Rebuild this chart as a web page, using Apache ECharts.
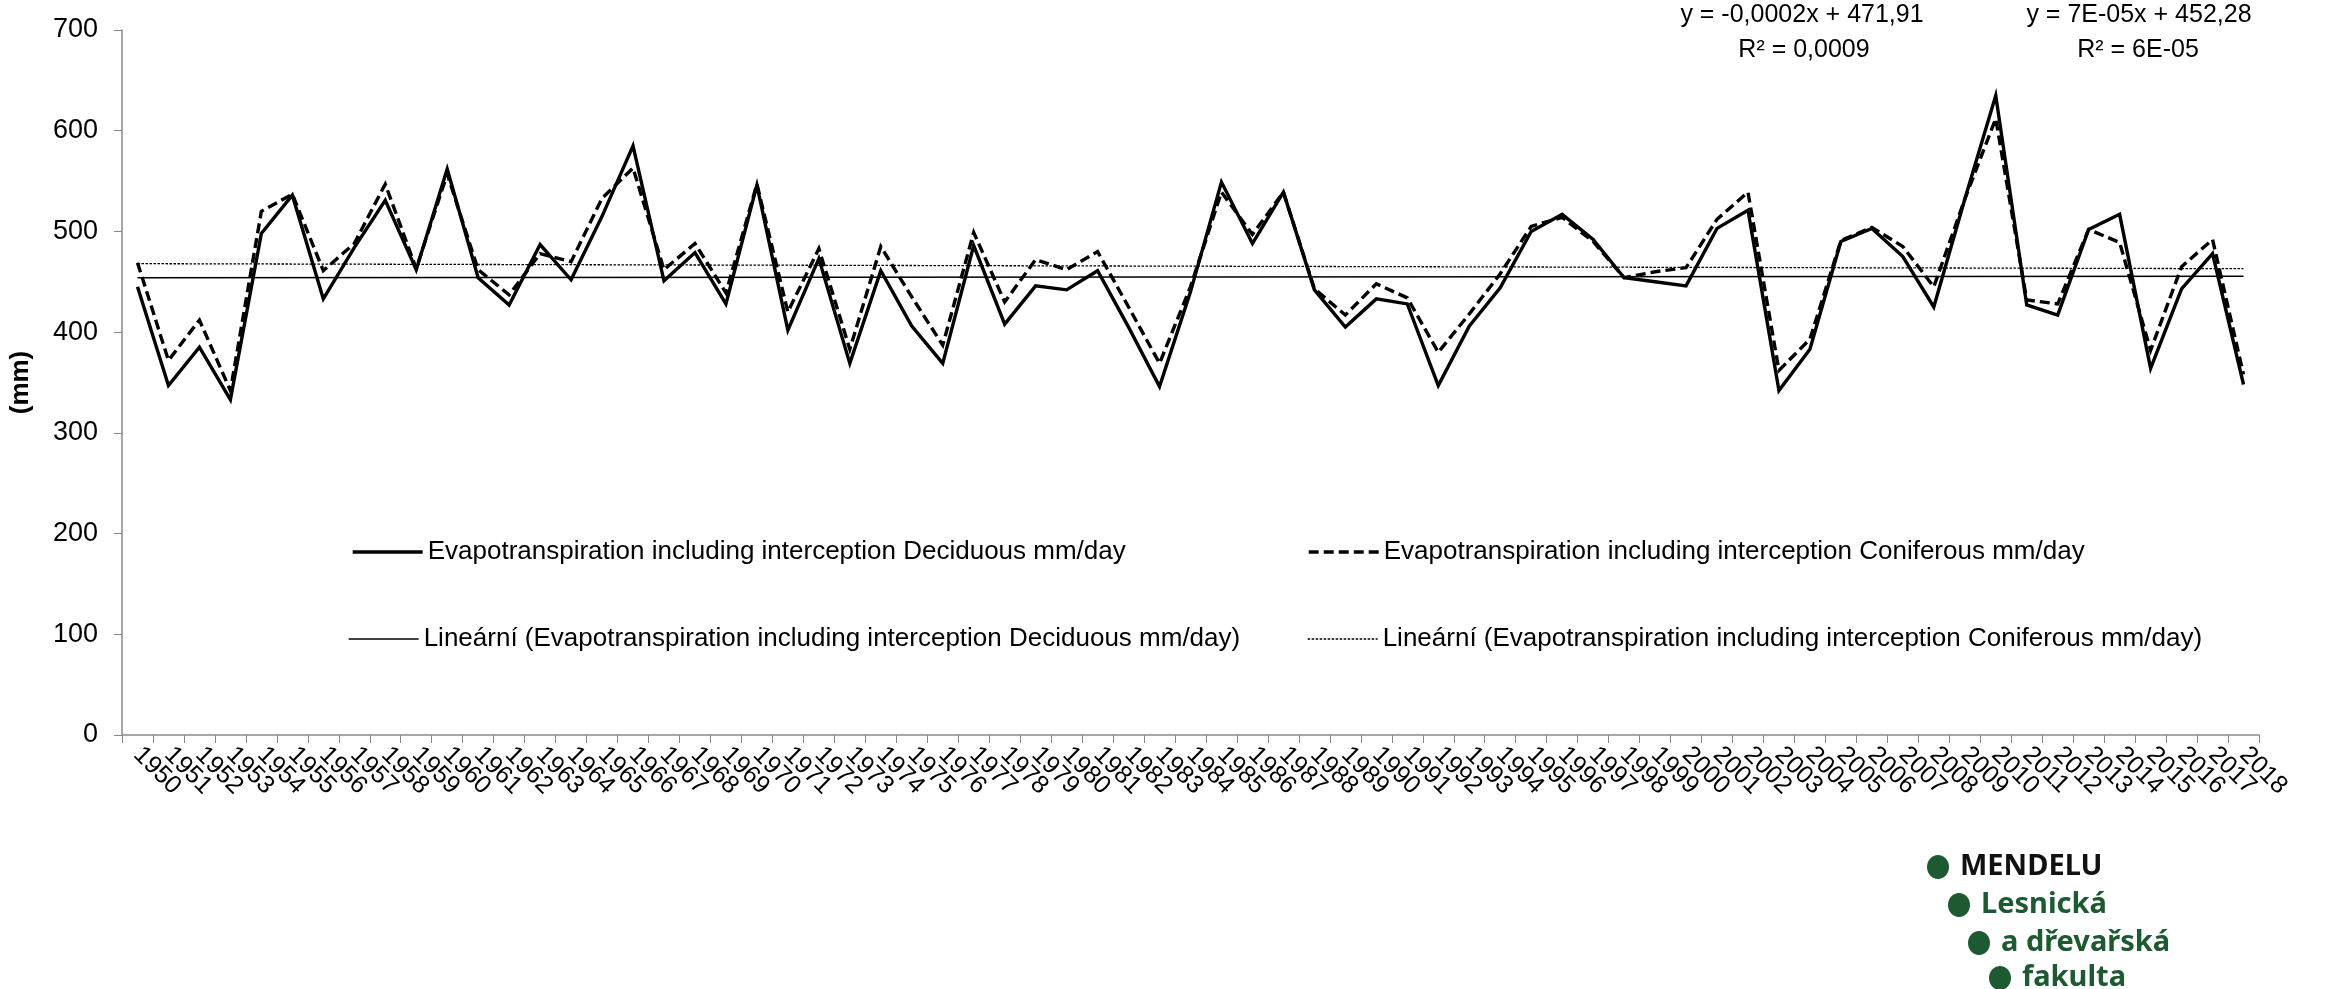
<!DOCTYPE html>
<html><head><meta charset="utf-8">
<script src="https://cdn.jsdelivr.net/npm/echarts@6/dist/echarts.min.js"></script>
<style>html,body{margin:0;padding:0;background:#fff}#c{width:2351px;height:989px}</style>
</head><body><div id="c"></div>
<script>
const years = ['1950','1951','1952','1953','1954','1955','1956','1957','1958','1959',
'1960','1961','1962','1963','1964','1965','1966','1967','1968','1969',
'1970','1971','1972','1973','1974','1975','1976','1977','1978','1979',
'1980','1981','1982','1983','1984','1985','1986','1987','1988','1989',
'1990','1991','1992','1993','1994','1995','1996','1997','1998','1999',
'2000','2001','2002','2003','2004','2005','2006','2007','2008','2009',
'2010','2011','2012','2013','2014','2015','2016','2017','2018'];
const deciduous = [445,347,385,333,498,536,433,484,531,462,
562,454,427,487,452,515,585,451,479,428,
546,402,473,369,461,406,369,486,408,446,
442,461,405,346,440,549,488,539,442,405,
433,428,347,406,444,500,517,492,454,450,
446,503,521,342,383,490,503,475,425,532,
635,427,417,502,517,364,443,478,348];
const coniferous = [469,372,412,342,520,537,461,488,547,463,
557,462,437,478,470,533,563,462,488,439,
547,420,483,383,485,435,387,499,430,472,
462,480,425,369,445,539,497,539,443,417,
448,434,380,418,458,505,514,490,454,460,
464,512,539,362,393,491,504,485,445,532,
612,432,428,502,489,382,465,492,358];
const decTrend = [454, 455.5];
const conTrend = [468, 463];
const yTickLabels = [0,100,200,300,400,500,600,700];
const seriesNames = [
 'Evapotranspiration including interception Deciduous mm/day',
 'Evapotranspiration including interception Coniferous mm/day',
 'Lineární (Evapotranspiration including interception Deciduous mm/day)',
 'Lineární (Evapotranspiration including interception Coniferous mm/day)'];
const eqConiferous = ['y = -0,0002x + 471,91','R² = 0,0009'];
const eqDeciduous = ['y = 7E-05x + 452,28','R² = 6E-05'];
const logoLines = ['MENDELU','Lesnická','a dřevařská','fakulta'];

const FONT = 'Liberation Sans, Arial, sans-serif';
const chart = echarts.init(document.getElementById('c'));
const last = years.length - 1;
const legendBase = {orient:'horizontal', itemWidth:70, itemHeight:14, itemGap:10,
  itemStyle:{opacity:0, borderWidth:0},
  textStyle:{fontFamily:FONT, fontSize:26, color:'#000'}};
const green = '#1d5a32';
const logoX = [1938, 1959, 1979, 2000];
const logoY = [867, 905, 943, 978];
const logoGraphics = [];
logoLines.forEach((t,i)=>{
  logoGraphics.push({type:'ellipse', shape:{cx:logoX[i], cy:logoY[i], rx:11, ry:12}, style:{fill:green}});
  logoGraphics.push({type:'text', x:logoX[i]+22, y:logoY[i], style:{text:t, fill: i===0?'#111':green,
    font: 'bold 29px "Noto Sans", sans-serif', textVerticalAlign:'middle', textAlign:'left'}});
});

chart.setOption({
  animation:false,
  backgroundColor:'#fff',
  grid:{left:116, right:92, top:30, bottom:254, containLabel:false},
  legend:[
    Object.assign({}, legendBase, {data:[seriesNames[0]], left:346, top:534, lineStyle:{width:3.4, type:'solid'}}),
    Object.assign({}, legendBase, {data:[seriesNames[1]], left:1302, top:534, lineStyle:{width:3.4, type:[10,5]}}),
    Object.assign({}, legendBase, {data:[seriesNames[2]], left:343, top:621, lineStyle:{width:1.3, type:'solid'}}),
    Object.assign({}, legendBase, {data:[seriesNames[3]], left:1302, top:621, lineStyle:{width:1.3, type:[2.5,1.5]}})
  ],
  xAxis:{type:'category', data:years, boundaryGap:true,
    axisLine:{lineStyle:{color:'#898989', width:1.5}},
    axisTick:{show:true, length:8, lineStyle:{color:'#898989'}},
    axisLabel:{interval:0, rotate:-45, margin:16, fontFamily:FONT, fontSize:25, color:'#000'},
    splitLine:{show:false}},
  yAxis:{type:'value', min:0, max:700, interval:100,
    name:'(mm)', nameLocation:'middle', nameGap:88, nameRotate:90,
    nameTextStyle:{fontFamily:FONT, fontSize:26, fontWeight:'bold', color:'#000'},
    axisLine:{show:true, lineStyle:{color:'#898989', width:1.5}},
    axisTick:{show:true, length:8, lineStyle:{color:'#898989'}},
    axisLabel:{margin:24, fontFamily:FONT, fontSize:27, color:'#000',
      formatter:(v)=> yTickLabels.includes(v) ? String(v) : ''},
    splitLine:{show:false}},
  graphic:[
    {type:'text', x:1802, y:15, style:{text:eqConiferous[0], font:'25px '+FONT, fill:'#000', textAlign:'center', textVerticalAlign:'middle'}},
    {type:'text', x:1804, y:50, style:{text:eqConiferous[1], font:'25px '+FONT, fill:'#000', textAlign:'center', textVerticalAlign:'middle'}},
    {type:'text', x:2139, y:15, style:{text:eqDeciduous[0], font:'25px '+FONT, fill:'#000', textAlign:'center', textVerticalAlign:'middle'}},
    {type:'text', x:2138, y:50, style:{text:eqDeciduous[1], font:'25px '+FONT, fill:'#000', textAlign:'center', textVerticalAlign:'middle'}}
  ].concat(logoGraphics),
  series:[
    {name:seriesNames[0], type:'line', data:deciduous, symbol:'none', z:4,
      lineStyle:{color:'#000', width:3.4, type:'solid', join:'miter'}, itemStyle:{color:'#000'}},
    {name:seriesNames[1], type:'line', data:coniferous, symbol:'none', z:3,
      lineStyle:{color:'#000', width:3.4, type:[10,5], join:'miter'}, itemStyle:{color:'#000'}},
    {name:seriesNames[2], type:'line', data:[[years[0],decTrend[0]],[years[last],decTrend[1]]], symbol:'none', z:2,
      lineStyle:{color:'#000', width:1.3, type:'solid'}, itemStyle:{color:'#000'}},
    {name:seriesNames[3], type:'line', data:[[years[0],conTrend[0]],[years[last],conTrend[1]]], symbol:'none', z:2,
      lineStyle:{color:'#000', width:1.3, type:[2.5,1.5]}, itemStyle:{color:'#000'}}
  ]
});
</script></body></html>
